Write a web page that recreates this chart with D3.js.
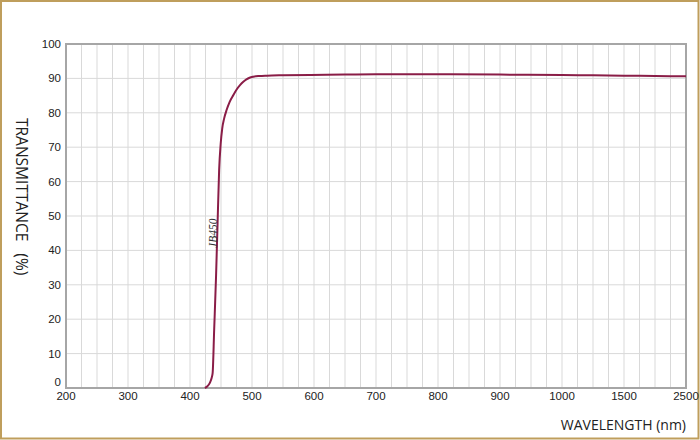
<!DOCTYPE html>
<html>
<head>
<meta charset="utf-8">
<script src="https://cdn.jsdelivr.net/npm/d3@7"></script>
<style>
  body { margin: 0; background: #fff; }
</style>
</head>
<body>
<div id="chart"></div>
<script>
// curve (JB450 filter)
const wavelength = [424, 428, 432, 435, 436.5, 439, 442, 444.5, 447, 449.5, 452, 455, 459, 464, 470, 475, 481, 486, 491, 496, 502, 512, 524, 550, 594, 650, 700, 800, 900, 1000, 1250, 1500, 2000, 2500];
const transmittance = [0, 0.5, 1.5, 3, 4.3, 17, 32.4, 48, 63.4, 71, 75.5, 78.3, 80.8, 83.2, 85.2, 86.7, 88.1, 89.0, 89.7, 90.2, 90.5, 90.7, 90.8, 90.9, 91.0, 91.1, 91.2, 91.2, 91.1, 91.0, 90.9, 90.8, 90.7, 90.6];

const xTickLabels = [200, 300, 400, 500, 600, 700, 800, 900, 1000, 1500, 2500];
const yTickLabels = [0, 10, 20, 30, 40, 50, 60, 70, 80, 90, 100];
// vertical grid: every 25 nm up to 1000, then coarser steps
const xGrid = d3.range(200, 1000, 25).concat([1000, 1125, 1250, 1375, 1500, 1750, 2000, 2250, 2500]);

const W = 700, H = 440;
const margin = { top: 44, right: 14, bottom: 52, left: 66 },
      width = W - margin.left - margin.right,
      height = H - margin.top - margin.bottom;

const svg = d3.select("#chart")
    .append("svg")
    .attr("width", W)
    .attr("height", H);

// gold frame
svg.append("rect")
    .attr("x", 1).attr("y", 1)
    .attr("width", W - 2.5).attr("height", H - 2.5)
    .attr("fill", "none")
    .attr("stroke", "#bf9e5c")
    .attr("stroke-width", 2);

const g = svg.append("g")
    .attr("transform", `translate(${margin.left},${margin.top})`);

// broken x axis: 200-1000 linear, then compressed to 2500
const x = d3.scaleLinear()
    .domain([200, 1000, 1500, 2500])
    .range([0, width * 32 / 40, width * 36 / 40, width]);

const y = d3.scaleLinear()
    .domain([0, 100])
    .range([height, 0]);

// grid
g.append("g")
    .selectAll("line")
    .data(xGrid)
    .join("line")
    .attr("x1", d => x(d)).attr("x2", d => x(d))
    .attr("y1", 0).attr("y2", height)
    .attr("stroke", "#d9d9d9")
    .attr("stroke-width", 1);

g.append("g")
    .selectAll("line")
    .data(yTickLabels)
    .join("line")
    .attr("x1", 0).attr("x2", width)
    .attr("y1", d => y(d)).attr("y2", d => y(d))
    .attr("stroke", "#d9d9d9")
    .attr("stroke-width", 1);

// plot border
g.append("rect")
    .attr("width", width).attr("height", height)
    .attr("fill", "none")
    .attr("stroke", "#a6a6a6")
    .attr("stroke-width", 2);

// tick labels
g.append("g")
    .selectAll("text")
    .data(xTickLabels)
    .join("text")
    .attr("x", d => x(d))
    .attr("y", height + 12)
    .attr("text-anchor", "middle")
    .style("font-family", "'Liberation Sans', Arial, sans-serif")
    .style("font-size", "11.5px")
    .attr("fill", "#222")
    .text(d => d);

g.append("g")
    .selectAll("text")
    .data(yTickLabels)
    .join("text")
    .attr("x", -5)
    .attr("y", d => y(d) + (d === 0 ? -2 : 4))
    .attr("text-anchor", "end")
    .style("font-family", "'Liberation Sans', Arial, sans-serif")
    .style("font-size", "11.5px")
    .attr("fill", "#222")
    .text(d => d);

// curve
const data = wavelength.map((w, i) => ({ w: w, t: transmittance[i] }));

g.append("path")
    .datum(data)
    .attr("fill", "none")
    .attr("stroke", "#8a1d47")
    .attr("stroke-width", 2)
    .attr("d", d3.line()
        .x(d => x(d.w))
        .y(d => y(d.t))
        .curve(d3.curveMonotoneX));

// curve label
g.append("text")
    .attr("transform", `translate(${x(437) + 4},${y(45)}) rotate(-90)`)
    .attr("text-anchor", "middle")
    .style("font-family", "'Liberation Serif', 'Times New Roman', serif")
    .style("font-style", "italic")
    .style("font-size", "11.5px")
    .attr("fill", "#333")
    .text("JB450");

// axis titles
svg.append("text")
    .attr("x", 686)
    .attr("y", 430)
    .attr("text-anchor", "end")
    .style("font-family", "'Open Sans', sans-serif")
    .style("font-size", "14px")
    .attr("fill", "#222")
    .text("WAVELENGTH (nm)");

svg.append("text")
    .attr("transform", "translate(16,118) rotate(90)")
    .attr("xml:space", "preserve")
    .style("white-space", "pre")
    .style("font-family", "'Open Sans', sans-serif")
    .style("font-size", "15.5px")
    .attr("fill", "#222")
    .text("TRANSMITTANCE   (%)");
</script>
</body>
</html>
